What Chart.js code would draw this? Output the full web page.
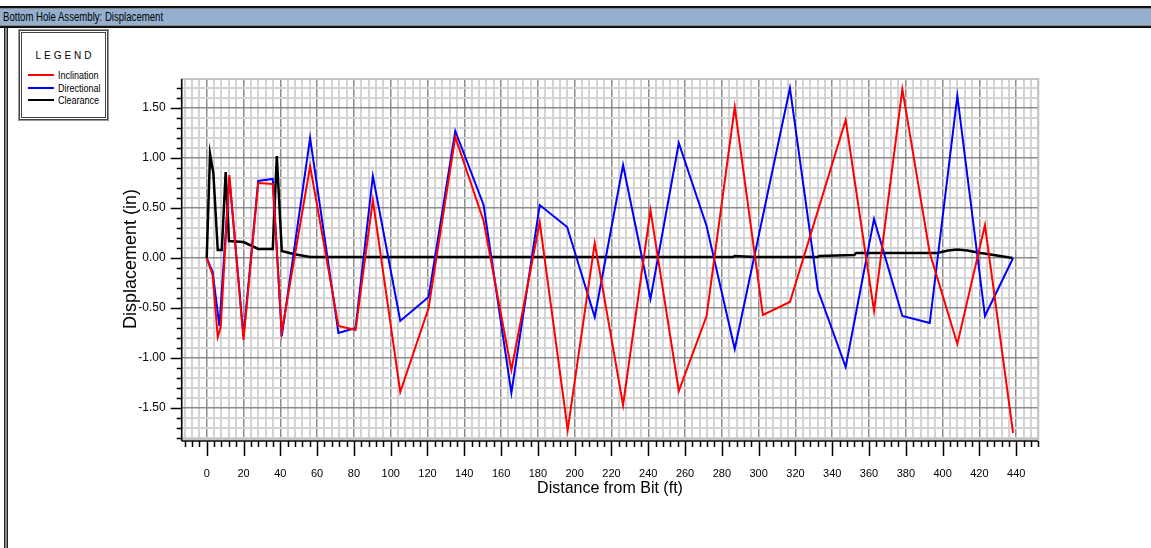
<!DOCTYPE html>
<html lang="en">
<head>
  <meta charset="UTF-8">
  <title>Bottom Hole Assembly: Displacement</title>
  <script src="https://cdn.jsdelivr.net/npm/chart.js"></script>
  <style>
    * { margin: 0; padding: 0; box-sizing: border-box; }
    body { width: 1151px; height: 548px; background: #fff; position: relative; overflow: hidden;
           font-family: "Liberation Sans", Arial, sans-serif; }
    .titlebar { position: absolute; left: 0; top: 6px; width: 1151px; height: 22px; background: #95b0cf;
                border-top: 2px solid #111; border-bottom: 2px solid #111;
                box-shadow: inset 0 1px 0 #888, inset 0 -1px 0 #888;
                font-size: 12px; line-height: 18px; padding-left: 3px; color: #000; white-space: nowrap; }
    .titlebar span { display: inline-block; transform: scaleX(0.8); transform-origin: left center; }
    .frame { position: absolute; left: 4px; top: 28px; bottom: 0; width: 4px; background: #8a8a8a;
             border-left: 1px solid #222; border-right: 1px solid #222; }
    #wrap { position: absolute; left: 0; top: 0; width: 1151px; height: 548px; }
    .legend { position: absolute; left: 19px; top: 30px; width: 89px; height: 90px; background: #fff;
              border: 3px double #444; outline: 1px solid #999; z-index: 2; }
    .legend .head { position: absolute; left: 0; right: 0; top: 17px; text-align: center;
                    font-size: 10px; letter-spacing: 3px; padding-left: 3px; }
    .legend .row { position: absolute; left: 6px; font-size: 11px; line-height: 12px; white-space: nowrap; }
    .legend .row i { position: absolute; left: 0; top: 5px; width: 26px; height: 2px; }
    .legend .row span { display: inline-block; margin-left: 30px; transform: scaleX(0.82); transform-origin: left center; }
  </style>
</head>
<body>
  <div class="titlebar"><span>Bottom Hole Assembly: Displacement</span></div>
  <div class="frame"></div>
  <div class="legend">
    <div class="head">LEGEND</div>
    <div class="row" style="top:36px"><i style="background:#ff0000"></i><span>Inclination</span></div>
    <div class="row" style="top:49px"><i style="background:#0000ff"></i><span>Directional</span></div>
    <div class="row" style="top:61px"><i style="background:#000"></i><span>Clearance</span></div>
  </div>
  <div id="wrap"><canvas id="bha"></canvas></div>

  <script>
    // distances from bit (ft) and displacement (in)
    const inclinationDist = [0, 3.2, 6, 7.6, 12.3, 20, 28, 35.9, 40.8, 56.2, 71.6, 80.9, 90.3, 105.2, 120.6,
      135.1, 150.5, 165.6, 181, 196.2, 210.9, 226.3, 241.2, 256.6, 271.7, 287, 302.3, 317, 347.3, 362.7,
      378.1, 393, 408, 423, 438.3];
    const inclinationValues = [0, -0.17, -0.79, -0.69, 0.83, -0.82, 0.75, 0.74, -0.74, 0.92, -0.68, -0.72, 0.58, -1.34, -0.50,
      1.21, 0.37, -1.12, 0.36, -1.72, 0.15, -1.47, 0.48, -1.33, -0.58, 1.51, -0.57, -0.44, 1.38, -0.53,
      1.69, 0.05, -0.86, 0.33, -1.75];

    const directionalDist = [0, 3.2, 6.9, 12.3, 20, 28, 35.9, 40.8, 56.2, 71.6, 80.9, 90.3, 105.2, 120.6,
      135.1, 150.5, 165.6, 181, 195.9, 210.9, 226.3, 241.2, 256.6, 271.7, 287, 317, 332.2, 347.3, 362.7,
      378.1, 393, 408, 423, 438.3];
    const directionalValues = [0, -0.14, -0.68, 0.80, -0.78, 0.77, 0.79, -0.78, 1.20, -0.75, -0.70, 0.82, -0.63, -0.39,
      1.27, 0.53, -1.35, 0.53, 0.31, -0.59, 0.93, -0.41, 1.15, 0.32, -0.91, 1.70, -0.32, -1.09, 0.39,
      -0.58, -0.65, 1.62, -0.58, 0.0];

    const clearanceDist = [0, 1.8, 3.6, 6, 8.2, 10.3, 12.1, 20, 28, 35.9, 38.1, 40.8, 47.1, 56.2, 286, 287, 298,
      332, 333, 352, 353, 397, 403, 408, 413.5, 419, 426, 438];
    const clearanceValues = [0, 1.04, 0.85, 0.08, 0.08, 0.86, 0.17, 0.16, 0.09, 0.09, 1.02, 0.07, 0.04, 0.01, 0.01, 0.02, 0.01,
      0.01, 0.02, 0.03, 0.05, 0.05, 0.075, 0.085, 0.075, 0.055, 0.035, 0.0];

    const X_MIN = -13.6, X_MAX = 452, X_STEP = 4, X_MAJOR = 20;
    const Y_MIN = -1.81, Y_MAX = 1.79;

    const sans = '"Liberation Sans", Arial, sans-serif';

    function toPoints(xs, ys) {
      return xs.map((x, i) => ({ x: x, y: ys[i] }));
    }
    const isMajorX = v => Math.round(v) % X_MAJOR === 0;
    const isMajorY = v => Math.round(v * 10) % 5 === 0;

    // light frame, black axis lines and outside tick marks
    const axisDecor = {
      id: 'axisDecor',
      beforeDatasetsDraw(chart) {
        const { ctx, chartArea: a } = chart;
        ctx.save();
        ctx.strokeStyle = '#c4c4c4';
        ctx.lineWidth = 2;
        ctx.strokeRect(a.left, a.top, a.right - a.left, a.bottom - a.top);
        ctx.restore();
      },
      afterDraw(chart) {
        const { ctx, chartArea: a, scales } = chart;
        const axisY = a.bottom + 2;
        ctx.save();
        ctx.strokeStyle = '#000';
        ctx.lineWidth = 1.5;
        ctx.beginPath();
        ctx.moveTo(a.left, axisY); ctx.lineTo(a.right, axisY);
        ctx.moveTo(a.left, a.top); ctx.lineTo(a.left, axisY);
        scales.x.ticks.forEach(t => {
          const px = Math.round(scales.x.getPixelForValue(t.value)) + 0.5;
          ctx.moveTo(px, axisY);
          ctx.lineTo(px, axisY + (isMajorX(t.value) ? 15 : 6));
        });
        scales.y.ticks.forEach(t => {
          const py = Math.round(scales.y.getPixelForValue(t.value)) + 0.5;
          ctx.moveTo(a.left, py);
          ctx.lineTo(a.left - (isMajorY(t.value) ? 11 : 5), py);
        });
        ctx.stroke();
        ctx.restore();
      }
    };

    const ctx = document.getElementById('bha').getContext('2d');
    new Chart(ctx, {
      type: 'line',
      data: {
        datasets: [
          { label: 'Inclination', data: toPoints(inclinationDist, inclinationValues),
            borderColor: '#ff0000', borderWidth: 2, pointRadius: 0, tension: 0 },
          { label: 'Directional', data: toPoints(directionalDist, directionalValues),
            borderColor: '#0000ff', borderWidth: 2, pointRadius: 0, tension: 0 },
          { label: 'Clearance', data: toPoints(clearanceDist, clearanceValues),
            borderColor: '#000000', borderWidth: 2.5, pointRadius: 0, tension: 0 }
        ]
      },
      options: {
        responsive: true,
        maintainAspectRatio: false,
        animation: false,
        layout: { padding: { left: 0, top: 79, right: 112.7, bottom: 49 } },
        plugins: { legend: { display: false }, tooltip: { enabled: false } },
        scales: {
          x: {
            type: 'linear', min: X_MIN, max: X_MAX,
            afterBuildTicks: s => {
              const t = [];
              for (let v = -12; v <= X_MAX; v += X_STEP) t.push({ value: v });
              s.ticks = t;
            },
            afterFit: s => { s.height = 60; },
            border: { display: false },
            grid: {
              drawTicks: false,
              color: c => isMajorX(c.tick.value) ? '#8c8c8c' : '#d3d3d3',
              lineWidth: c => isMajorX(c.tick.value) ? 1.5 : 2
            },
            ticks: {
              autoSkip: false, maxRotation: 0, padding: 28, color: '#000',
              font: { family: sans, size: 11 },
              callback: v => (isMajorX(v) && v >= 0 && v <= 440) ? String(v) : ''
            },
            title: {
              display: true, text: 'Distance from Bit (ft)', color: '#000',
              font: { family: sans, size: 16 }, padding: { top: 0, bottom: 1 }
            }
          },
          y: {
            type: 'linear', min: Y_MIN, max: Y_MAX,
            afterBuildTicks: s => {
              const t = [];
              for (let k = -18; k <= 17; k++) t.push({ value: k / 10 });
              s.ticks = t;
            },
            afterFit: s => { s.width = 181.7; },
            border: { display: false },
            grid: {
              drawTicks: false,
              color: c => isMajorY(c.tick.value) ? '#8c8c8c' : '#d3d3d3',
              lineWidth: c => isMajorY(c.tick.value) ? 1.5 : 2
            },
            ticks: {
              autoSkip: false, padding: 16, color: '#000',
              font: { family: sans, size: 12 },
              callback: v => (isMajorY(v) && Math.abs(v) <= 1.5) ? v.toFixed(2) : ''
            },
            title: {
              display: true, text: 'Displacement (in)', color: '#000',
              font: { family: sans, size: 18 },
              padding: { top: 120, bottom: 0 }
            }
          }
        }
      },
      plugins: [axisDecor]
    });
  </script>
</body>
</html>
